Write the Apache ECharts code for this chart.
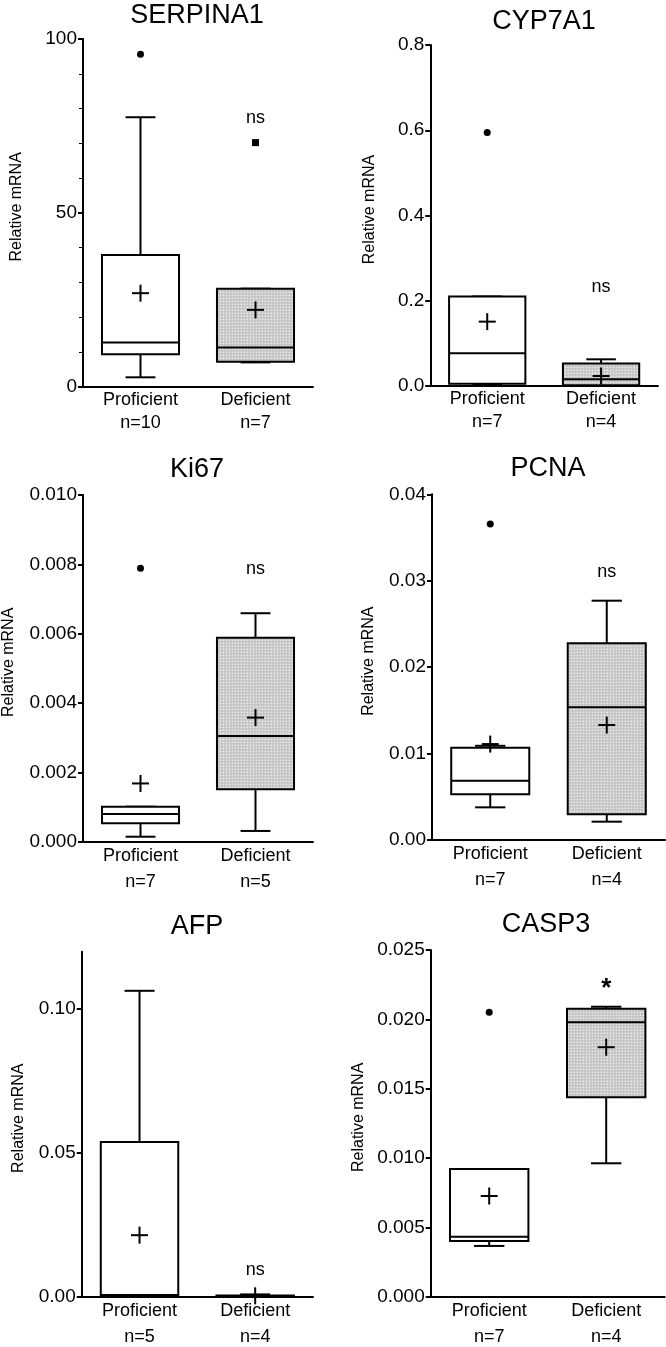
<!DOCTYPE html>
<html>
<head>
<meta charset="utf-8">
<script src="https://cdn.jsdelivr.net/npm/echarts@6/dist/echarts.min.js"></script>
<style>
html,body{margin:0;padding:0;background:#fff;}
#c{width:666px;height:1347px;}
</style>
</head>
<body>
<div id="c"></div>
<script>
// ---------- data ----------
const genes = ['SERPINA1', 'CYP7A1', 'Ki67', 'PCNA', 'AFP', 'CASP3'];
const categories = ['Proficient', 'Deficient'];
const nCounts = [['n=10','n=7'], ['n=7','n=4'], ['n=7','n=5'], ['n=7','n=4'], ['n=5','n=4'], ['n=7','n=4']];
// stats: [min, q1, median, q3, max, mean]
const serpina1Prof = [2.7, 9.3, 12.7, 37.9, 77.5, 26.9];
const serpina1Def  = [7.0, 7.2, 11.3, 28.2, 28.2, 22.1];
const cyp7a1Prof   = [0.003, 0.005, 0.077, 0.21, 0.21, 0.151];
const cyp7a1Def    = [0.001, 0.002, 0.0157, 0.053, 0.0626, 0.0235];
const ki67Prof     = [0.000144, 0.00053, 0.0008, 0.00101, 0.00101, 0.00168];
const ki67Def      = [0.00031, 0.00151, 0.00305, 0.00588, 0.00659, 0.00358];
const pcnaProf     = [0.00378, 0.00529, 0.00686, 0.01068, 0.0109, 0.0111];
const pcnaDef      = [0.00212, 0.00297, 0.01535, 0.02276, 0.02769, 0.0133];
const afpProf      = [0.0, 0.0003, 0.0006, 0.0538, 0.1064, 0.0214];
const afpDef       = [0.00005, 0.0001, 0.0002, 0.0004, 0.0008, 0.0003];
const casp3Prof    = [0.00366, 0.00402, 0.00433, 0.00921, 0.00921, 0.00726];
const casp3Def     = [0.00962, 0.01438, 0.01979, 0.02077, 0.02091, 0.01799];
// outliers: [categoryIndex, value]
const serpina1Out = [[0, 95.6], [1, 70.2]];
const cyp7a1Out   = [[0, 0.595]];
const ki67Out     = [[0, 0.00789]];
const pcnaOut     = [[0, 0.03657]];
const afpOut      = [];
const casp3Out    = [[0, 0.02051]];
// significance labels: [categoryIndex, yValue, text]
const sigLabels = [[1, 77.2, 'ns'], [1, 0.233, 'ns'], [1, 0.00787, 'ns'], [1, 0.031, 'ns'], [1, 0.00926, 'ns'], [1, 0.0222, '*']];
// y axis ranges and ticks
const yMax = [100, 0.8, 0.01, 0.04, 0.12, 0.025];
const yTicks = [
  [0, 50, 100],
  [0, 0.2, 0.4, 0.6, 0.8],
  [0, 0.002, 0.004, 0.006, 0.008, 0.010],
  [0, 0.01, 0.02, 0.03, 0.04],
  [0, 0.05, 0.10],
  [0, 0.005, 0.010, 0.015, 0.020, 0.025]
];
const yTickLabels = [
  ['0', '50', '100'],
  ['0.0', '0.2', '0.4', '0.6', '0.8'],
  ['0.000', '0.002', '0.004', '0.006', '0.008', '0.010'],
  ['0.00', '0.01', '0.02', '0.03', '0.04'],
  ['0.00', '0.05', '0.10'],
  ['0.000', '0.005', '0.010', '0.015', '0.020', '0.025']
];
const boxStats = [
  [serpina1Prof, serpina1Def], [cyp7a1Prof, cyp7a1Def], [ki67Prof, ki67Def],
  [pcnaProf, pcnaDef], [afpProf, afpDef], [casp3Prof, casp3Def]
];
const outliers = [serpina1Out, cyp7a1Out, ki67Out, pcnaOut, afpOut, casp3Out];

// ---------- layout ----------
const FONT = '"Liberation Sans", Arial, Helvetica, sans-serif';
const grids = [
  {left: 83,    top: 39,    width: 230,   height: 347.7},
  {left: 430.3, top: 45,    width: 227.7, height: 341},
  {left: 81.7,  top: 495,   width: 231.3, height: 346.7},
  {left: 432,   top: 494.3, width: 233,   height: 345.7},
  {left: 81.7,  top: 951.7, width: 231.3, height: 345},
  {left: 430.7, top: 950,   width: 234,   height: 346.7}
];
const titlePos = [[197, 16], [544, 21.7], [197, 470], [548, 469], [197, 926.7], [546, 925]];
const nameGaps = [58, 53, 66, 55, 55, 64];
const catLineH = [23, 23, 26, 26, 26, 26];
const catMargin = [2, 2, 1, 1, 1, 1];
const outlierSymbols = ['circle', 'rect'];

// stipple pattern for deficient boxes
const pat = document.createElement('canvas');
pat.width = 3; pat.height = 3;
(function(){
  const ctx = pat.getContext('2d');
  ctx.fillStyle = '#c6c6c6'; ctx.fillRect(0,0,3,3);
  ctx.fillStyle = '#ebebeb'; ctx.fillRect(1,1,1,1);
  ctx.fillStyle = '#d6d6d6'; ctx.fillRect(0,1,1,1); ctx.fillRect(1,0,1,1);
})();
const fills = ['#ffffff', {image: pat, repeat: 'repeat'}];

function renderBox(params, api) {
  const ci = api.value(0);
  const p = (v) => api.coord([ci, v]);
  const cx = p(api.value(1))[0];
  const yMin = p(api.value(1))[1], yQ1 = p(api.value(2))[1], yMed = p(api.value(3))[1];
  const yQ3 = p(api.value(4))[1], yMaxP = p(api.value(5))[1], yMean = p(api.value(6))[1];
  const band = api.size([1, 0])[0];
  const bw = band * 0.67, cw = band * 0.26, cr = 8.5;
  const ls = {stroke: '#000', lineWidth: 2, fill: null};
  const line = (x1, y1, x2, y2) => ({type: 'line', shape: {x1, y1, x2, y2}, style: ls});
  return {
    type: 'group',
    children: [
      line(cx, yQ3, cx, yMaxP),
      line(cx - cw/2, yMaxP, cx + cw/2, yMaxP),
      line(cx, yQ1, cx, yMin),
      line(cx - cw/2, yMin, cx + cw/2, yMin),
      {type: 'rect', shape: {x: cx - bw/2, y: yQ3, width: bw, height: yQ1 - yQ3},
       style: {fill: fills[ci], stroke: '#000', lineWidth: 2}},
      line(cx - bw/2, yMed, cx + bw/2, yMed),
      line(cx - cr, yMean, cx + cr, yMean),
      line(cx, yMean - cr, cx, yMean + cr)
    ]
  };
}

const option = {
  animation: false,
  backgroundColor: '#fff',
  textStyle: {fontFamily: FONT, color: '#000'},
  grid: grids.map(g => Object.assign({containLabel: false}, g)),
  graphic: genes.map((g, i) => ({
    type: 'text', x: titlePos[i][0], y: titlePos[i][1],
    style: {text: g, fontSize: 27, fontFamily: FONT, fill: '#000', textAlign: 'center', textVerticalAlign: 'middle'}
  })),
  xAxis: genes.map((g, i) => ({
    type: 'category', gridIndex: i, data: categories,
    axisLine: {lineStyle: {color: '#000', width: 2}},
    axisTick: {show: false},
    axisLabel: {
      margin: catMargin[i], interval: 0,
      formatter: (v, idx) => '{a|' + v + '}\n{a|' + nCounts[i][idx] + '}',
      rich: {a: {fontSize: 18, fontFamily: FONT, color: '#000', lineHeight: catLineH[i]}}
    },
    splitLine: {show: false}
  })),
  yAxis: genes.map((g, i) => ({
    type: 'value', gridIndex: i, min: 0, max: yMax[i],
    interval: i === 0 ? 50 : undefined,
    name: 'Relative mRNA', nameLocation: 'middle', nameGap: nameGaps[i],
    nameTextStyle: {fontSize: 16, fontFamily: FONT, color: '#000', padding: [0, 0, 0, 12]},
    axisLine: {show: true, lineStyle: {color: '#000', width: 2}},
    axisTick: {show: true, length: 5, lineStyle: {color: '#000', width: 2}, customValues: yTicks[i]},
    minorTick: {show: i === 0, splitNumber: 5, length: 4, lineStyle: {color: '#000', width: 1}},
    axisLabel: {
      fontSize: 19, fontFamily: FONT, color: '#000', margin: 6,
      customValues: yTicks[i],
      formatter: (v) => {
        const k = yTicks[i].findIndex(t => Math.abs(t - v) < yMax[i] * 1e-6);
        return k >= 0 ? yTickLabels[i][k] : '';
      }
    },
    splitLine: {show: false}
  })),
  series: []
};

genes.forEach((g, i) => {
  option.series.push({
    type: 'custom', xAxisIndex: i, yAxisIndex: i, clip: false,
    renderItem: renderBox,
    encode: {x: 0, y: [1, 2, 3, 4, 5, 6]},
    data: boxStats[i].map((s, ci) => [ci].concat(s))
  });
  [0, 1].forEach(ci => {
    const pts = outliers[i].filter(o => o[0] === ci);
    if (pts.length) option.series.push({
      type: 'scatter', xAxisIndex: i, yAxisIndex: i,
      symbol: outlierSymbols[ci], symbolSize: 7,
      itemStyle: {color: '#000', opacity: 1}, data: pts, z: 5
    });
  });
  const s = sigLabels[i];
  option.series.push({
    type: 'scatter', xAxisIndex: i, yAxisIndex: i, symbolSize: 0,
    itemStyle: {opacity: 1},
    data: [[s[0], s[1]]],
    label: {show: true, position: 'inside', formatter: s[2], opacity: 1,
      fontSize: s[2] === '*' ? 26 : 18, fontWeight: s[2] === '*' ? 'bold' : 'normal',
      fontFamily: FONT, color: '#000'}
  });
});

const chart = echarts.init(document.getElementById('c'), null, {renderer: 'canvas'});
chart.setOption(option);
</script>
</body>
</html>
